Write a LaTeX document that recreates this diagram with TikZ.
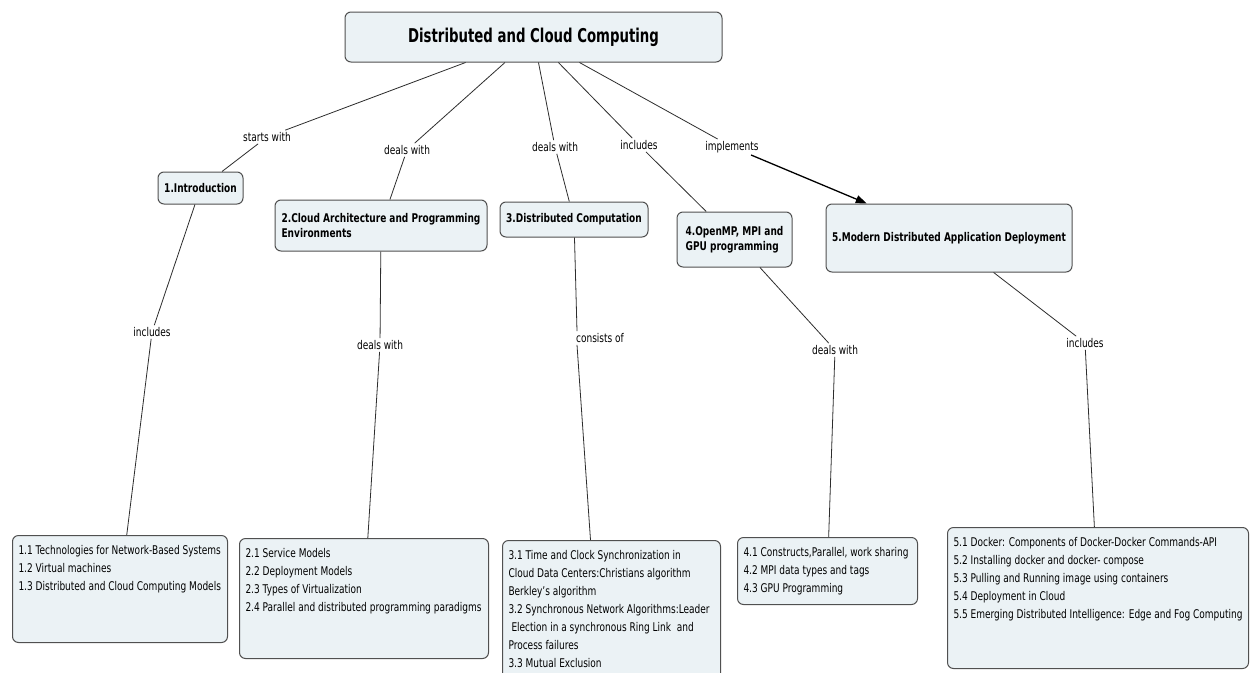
\documentclass[tikz,border=0pt]{standalone}
\usepackage{fontspec}
\setmainfont{DejaVu Sans}[FakeStretch=0.75]
\newfontfamily\headfont{DejaVu Sans}[FakeStretch=0.70]
\usetikzlibrary{arrows.meta}
\definecolor{boxfill}{RGB}{235,242,245}
\definecolor{boxline}{RGB}{80,80,80}
\definecolor{linkcol}{RGB}{45,45,45}
\begin{document}
\begin{tikzpicture}[x=1pt,y=-1pt,
  concept/.style={draw=boxline, line width=1pt, fill=boxfill, rounded corners=6pt,
    inner sep=0pt, font=\bfseries\fontsize{12}{15}\selectfont},
  leaf/.style={draw=boxline, line width=1pt, fill=boxfill, rounded corners=6pt,
    inner sep=6pt, anchor=north west, font=\fontsize{12}{18}\selectfont},
  linkword/.style={inner sep=2pt, font=\fontsize{12}{14}\selectfont},
  link/.style={draw=linkcol, line width=0.8pt},
  arrowlink/.style={draw=black, line width=1.3pt, -{Triangle[length=11pt,width=8pt]}}]
\clip (0,0) rectangle (1255,672);
\fill[white] (0,0) rectangle (1255,672);

% main topic
\node[concept, minimum width=377pt, minimum height=50pt,
  font=\headfont\bfseries\fontsize{19}{22}\selectfont] (root) at (533.5,37) {Distributed and Cloud Computing};

% chapter concepts
\node[concept, minimum width=85pt, minimum height=32pt] (c1) at (200.5,188) {1.Introduction};
\node[concept, minimum width=212pt, minimum height=51pt, align=left] (c2) at (381,225.5)
  {2.Cloud Architecture and Programming\\Environments};
\node[concept, minimum width=148pt, minimum height=35pt] (c3) at (574,219.5) {3.Distributed Computation};
\node[concept, minimum width=115pt, minimum height=55pt, align=left] (c4) at (734.5,239.5)
  {4.OpenMP, MPI and\\GPU programming};
\node[concept, minimum width=246pt, minimum height=68pt] (c5) at (949,238)
  {5.Modern Distributed Application Deployment};

% linking phrases, first level
\node[linkword] (w1) at (267,137) {starts with};
\node[linkword] (w2) at (407,150) {deals with};
\node[linkword] (w3) at (555,147) {deals with};
\node[linkword] (w4) at (639,145) {includes};
\node[linkword] (w5) at (732,147) {implements};

% linking phrases, second level
\node[linkword] (w6) at (152,332) {includes};
\node[linkword] (w7) at (380,345) {deals with};
\node[linkword] (w8) at (600,338) {consists of};
\node[linkword] (w9) at (835,350) {deals with};
\node[linkword] (w10) at (1085,343) {includes};

% topic lists
\node[leaf] (b1) at (12,535) {\parbox[t][95pt][t]{203pt}{\strut 1.1 Technologies for Network-Based Systems\\
  1.2 Virtual machines\\
  1.3 Distributed and Cloud Computing Models}};
\node[leaf] (b2) at (239,538) {\parbox[t][108pt][t]{237pt}{\strut 2.1 Service Models\\
  2.2 Deployment Models\\
  2.3 Types of Virtualization\\
  2.4 Parallel and distributed programming paradigms}};
\node[leaf] (b3) at (502,540) {\parbox[t][138pt][t]{206pt}{\strut 3.1 Time and Clock Synchronization in\\
  Cloud Data Centers:Christians algorithm\\
  Berkley’s algorithm\\
  3.2 Synchronous Network Algorithms:Leader\\
  \hspace*{3pt}Election in a synchronous Ring Link\ \ and\\
  Process failures\\
  3.3 Mutual Exclusion}};
\node[leaf] (b4) at (737,537) {\parbox[t][55pt][t]{168pt}{\strut 4.1 Constructs,Parallel, work sharing\\
  4.2 MPI data types and tags\\
  4.3 GPU Programming}};
\node[leaf] (b5) at (947,527) {\parbox[t][129pt][t]{289pt}{\strut 5.1 Docker: Components of Docker-Docker Commands-API\\
  5.2 Installing docker and docker- compose\\
  5.3 Pulling and Running image using containers\\
  5.4 Deployment in Cloud\\
  5.5 Emerging Distributed Intelligence: Edge and Fog Computing}};

% attachment points of the "consists of" link
\coordinate (w8in) at ([xshift=-23pt]w8.north);
\coordinate (w8out) at ([xshift=-23pt]w8.south);
\coordinate (b3in) at ([xshift=-21pt]b3.north);

% connectors from the main topic
\draw[link] (root) -- (w1);
\draw[link] (w1) -- (c1);
\draw[link] (root) -- (w2);
\draw[link] (w2) -- (c2);
\draw[link] (root) -- (w3);
\draw[link] (w3) -- (c3);
\draw[link] (root) -- (w4);
\draw[link] (w4) -- (c4);
\draw[link] (root) -- (w5);
\draw[arrowlink] (w5) -- (c5);

% connectors down to the topic lists
\draw[link] (c1) -- (w6);
\draw[link] (w6) -- (b1);
\draw[link] (c2) -- (w7);
\draw[link] (w7) -- (b2);
\draw[link] (c3) -- (w8in);
\draw[link] (w8out) -- (b3in);
\draw[link] (c4) -- (w9);
\draw[link] (w9) -- (b4);
\draw[link] (c5) -- (w10);
\draw[link] (w10) -- (b5);
\end{tikzpicture}
\end{document}
